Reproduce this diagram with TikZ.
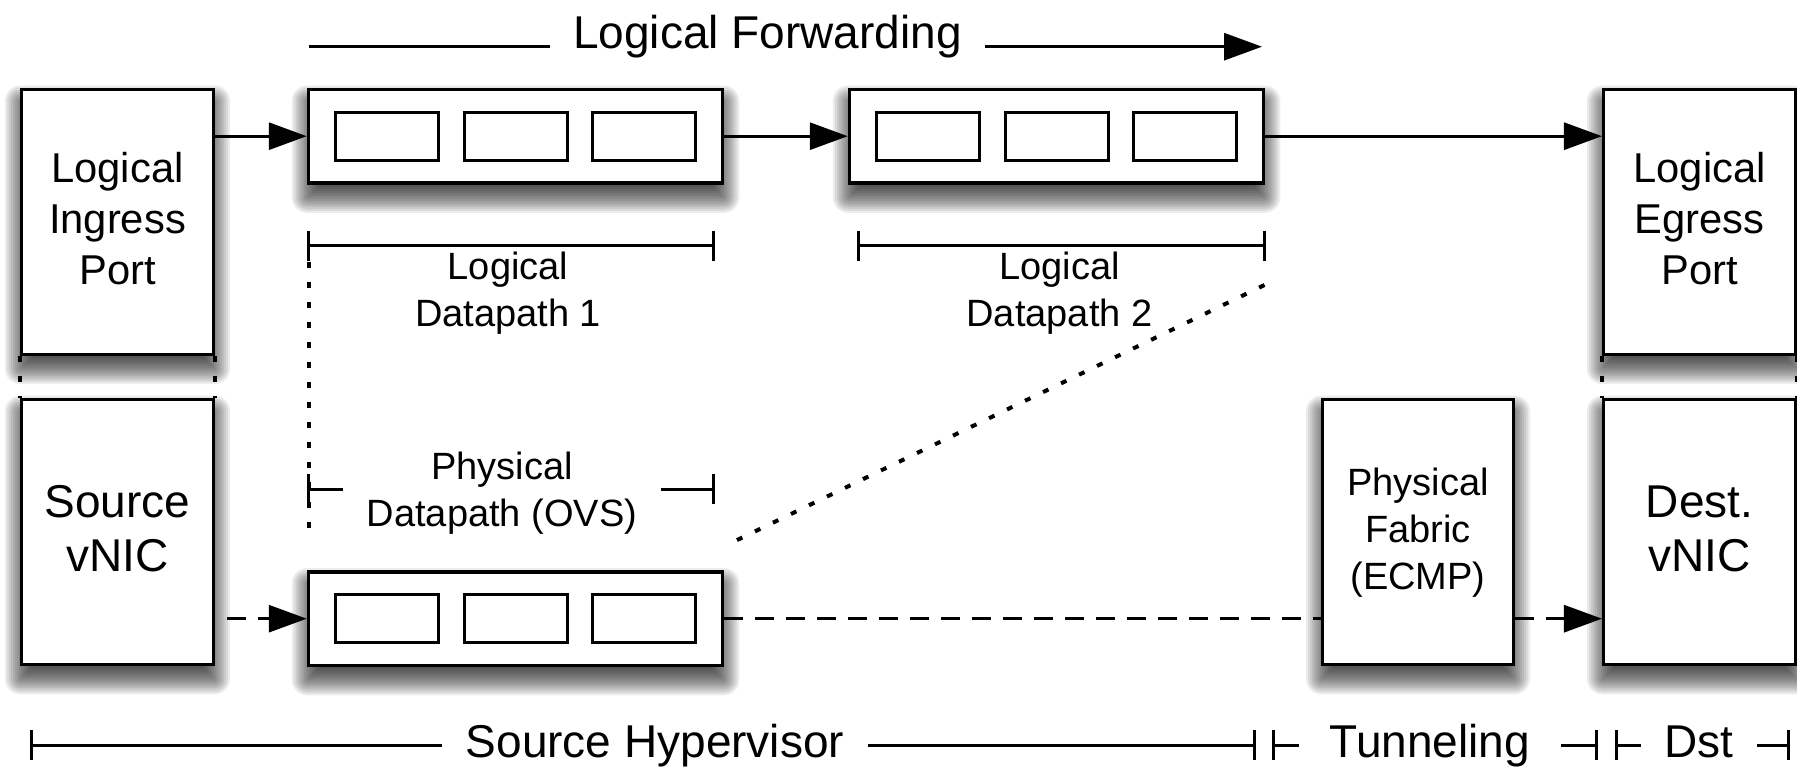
\documentclass[tikz,border=0pt]{standalone}
\usepackage{fontspec}
\setmainfont{Liberation Sans}
\usetikzlibrary{arrows.meta,calc,backgrounds}

% line-box strut: ascent 0.77em, descent 0.23em
\newcommand\lst{\rule[-0.23em]{0pt}{1em}}

\begin{document}
\begin{tikzpicture}[x=0.5pt,y=-0.5pt,
  portbox/.style={draw,line width=1.75pt,fill=white,
      minimum width=95.8pt,minimum height=132.5pt,inner sep=0pt,align=center,
      font=\fontsize{20.85}{25.5}\selectfont},
  nicbox/.style={portbox,font=\fontsize{23}{27}\selectfont},
  fabricbox/.style={portbox,minimum width=95.3pt,font=\fontsize{19}{23.5}\selectfont},
  dpbox/.style={draw,line width=1.75pt,fill=white,
      minimum width=207pt,minimum height=46.85pt,inner sep=0pt},
  cell/.style={draw,line width=1.5pt,fill=white,minimum width=51.5pt,
      minimum height=24pt,inner sep=0pt},
  lbl/.style={fill=white,align=center,inner xsep=11.5pt,inner ysep=15pt,
      font=\fontsize{19}{23.5}\selectfont},
  biglbl/.style={fill=white,inner xsep=11.5pt,inner ysep=13pt,
      font=\fontsize{23}{27}\selectfont},
  shadowlayer/.style={black,fill opacity=0.075},
  wire/.style={line width=1.5pt},
  arr/.style={wire,-{Triangle[length=19pt,width=13.5pt]}},
  dashwire/.style={wire,dash pattern=on 9.5pt off 6pt},
  dotwire/.style={line width=2pt,dash pattern=on 3pt off 7pt},
  vtick/.pic={\draw[wire] (0,-15) -- (0,15);},
]
\useasboundingbox (0,0) rectangle (1797,769);

% ports and vNICs
\node[portbox] (in) at (117.5,221.8) {\lst Logical\\ \lst Ingress\\ \lst Port};
\node[portbox] (eg) at (1699.5,221.8) {\lst Logical\\ \lst Egress\\ \lst Port};
\node[nicbox] (vnic) at (117.5,532) {\lst Source\\ \lst vNIC};
\node[nicbox] (dst) at (1699.5,532) {\lst Dest.\\ \lst vNIC};
\node[fabricbox] (fab) at (1418,532) {\lst Physical\\ \lst Fabric\\ \lst (ECMP)};

% datapaths with their three table cells
\node[dpbox] (dp1) at (515.5,136.2) {};
\node[dpbox] (dp2) at (1056.5,136.2) {};
\node[dpbox] (pdp) at (515.5,618.7) {};
\foreach \d in {dp1,dp2,pdp}
  \foreach \i/\o in {a/-128.5,b/0,c/128.5}
    \node[cell] (\d\i) at ($(\d.center)+(\o,0)$) {};

% soft drop shadows, built from stacked translucent rectangles
\begin{scope}[on background layer]
  \foreach \n in {in,eg,vnic,dst,fab,dp1,dp2,pdp}
    \foreach \e in {-15,-13,...,15} {
      \pgfmathsetmacro\rc{max(\e,0)*0.5+0.2}
      \fill[shadowlayer,rounded corners=\rc pt]
        ($(\n.south west)+(-\e,13+\e)$) rectangle ($(\n.north east)+(\e,13-\e)$);
    }
\end{scope}

% labels
\node[lbl] (l1) at (508,292.7) {\lst Logical\\ \lst Datapath 1};
\node[lbl] (l2) at (1059.5,292.7) {\lst Logical\\ \lst Datapath 2};
\node[lbl] (lp) at (502,492.6) {\lst Physical\\ \lst Datapath (OVS)};
\node[biglbl] (lf) at (767.5,36) {\lst Logical Forwarding};
\node[biglbl] (sh) at (655,744.7) {\lst Source Hypervisor};
\node[biglbl,minimum width=131pt] (tn) at (1430,744.7) {\lst Tunneling};
\node[biglbl] (ds) at (1699,744.7) {\lst Dst};

% logical forwarding arrow
\coordinate (lfs) at (308.5,46.7);
\coordinate (lfe) at (1262,46.7);
\draw[wire] (lfs) -- (lfs -| lf.west);
\draw[arr] (lfe -| lf.east) -- (lfe);

% logical datapath brackets
\coordinate (b1l) at (308.5,246); \coordinate (b1r) at (713.3,246);
\coordinate (b2l) at (858,246);   \coordinate (b2r) at (1264.5,246);
\draw[wire] (b1l) -- (b1r);
\draw[wire] (b2l) -- (b2r);
\foreach \c in {b1l,b1r,b2l,b2r} \pic at (\c) {vtick};

% physical datapath bracket
\coordinate (bpl) at (308.5,489.3); \coordinate (bpr) at (713.3,489.3);
\draw[wire] (bpl) -- (bpl -| lp.west) (lp.east |- bpr) -- (bpr);
\foreach \c in {bpl,bpr} \pic at (\c) {vtick};

% bottom spans
\coordinate (shl) at (31,745);   \coordinate (shr) at (1254,745);
\coordinate (tnl) at (1273,745); \coordinate (tnr) at (1596,745);
\coordinate (dsl) at (1616,745); \coordinate (dsr) at (1788.6,745);
\draw[wire] (shl) -- (shl -| sh.west) (sh.east |- shr) -- (shr);
\draw[wire] (tnl) -- (tnl -| tn.west) (tn.east |- tnr) -- (tnr);
\draw[wire] (dsl) -- (dsl -| ds.west) (ds.east |- dsr) -- (dsr);
\foreach \c in {shl,shr,tnl,tnr,dsl,dsr} \pic at (\c) {vtick};

% dotted mapping lines
\coordinate (v1) at (308.5,262); \coordinate (v2) at (308.5,538);
\coordinate (d1) at (1264.5,285); \coordinate (d2) at (731,543);
\draw[dotwire] (v1) -- (v2);
\draw[dotwire] (d1) -- (d2);
\draw[dotwire] (in.south west) -- (vnic.north west);
\draw[dotwire] (in.south east) -- (vnic.north east);
\draw[dotwire] (eg.south west) -- (dst.north west);
\draw[dotwire] (eg.south east) -- (dst.north east);

% logical path
\draw[arr] (dp1.west -| in.east) -- (dp1.west);
\draw[arr] (dp1.east) -- (dp2.west);
\draw[arr] (dp2.east) -- (dp2.east -| eg.west);

% physical path
\draw[dashwire,dash phase=9.5pt,arr] (pdp.west -| vnic.east) -- (pdp.west);
\draw[dashwire] (pdp.east) -- (pdp.east -| fab.west);
\draw[dashwire,arr] (pdp.east -| fab.east) -- (pdp.east -| dst.west);
\end{tikzpicture}
\end{document}
